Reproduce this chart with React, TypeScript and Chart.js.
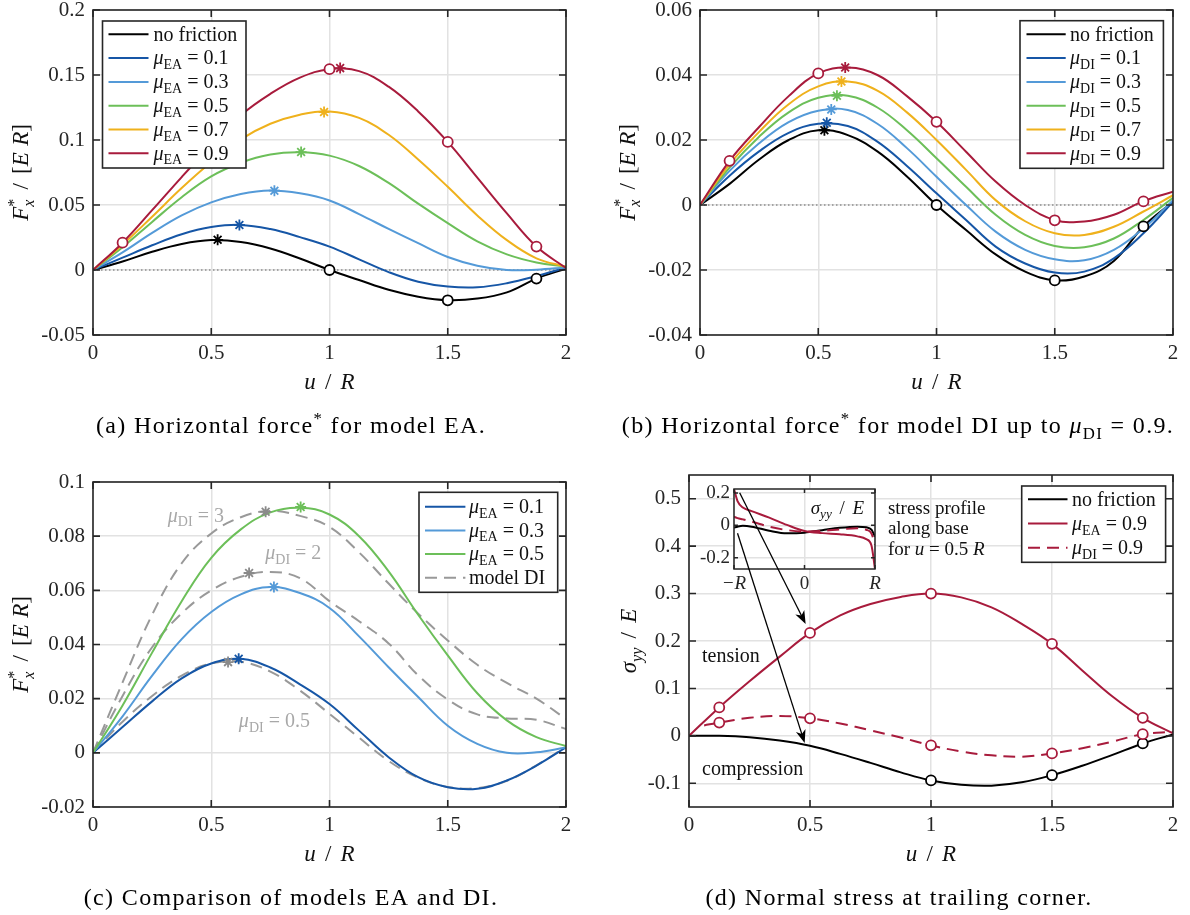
import React, { useEffect, useRef } from 'react';
import { Chart, registerables } from 'chart.js';

Chart.register(...registerables);

// ---------------- data ----------------
const U = [0, 0.125, 0.25, 0.375, 0.5, 0.625, 0.75, 0.875, 1, 1.125, 1.25, 1.375, 1.5, 1.625, 1.75, 1.875, 2];

// horizontal force, no friction (same in a and b)
const noFriction = [0, 0.0065, 0.014, 0.02, 0.023, 0.0215, 0.0165, 0.0088, 0, -0.0077, -0.0152, -0.0205, -0.0232, -0.022, -0.0172, -0.0066, 0.001];
// model EA
const ea01 = [0, 0.0095, 0.019, 0.0275, 0.033, 0.0347, 0.0315, 0.0253, 0.018, 0.0082, -0.0016, -0.009, -0.0127, -0.0133, -0.0102, -0.0047, 0.002];
const ea03 = [0, 0.0135, 0.0285, 0.042, 0.052, 0.0585, 0.0612, 0.059, 0.0535, 0.043, 0.0316, 0.0206, 0.01, 0.0033, 0.0, 0.0002, 0.002];
const ea05 = [0, 0.0175, 0.037, 0.056, 0.072, 0.0825, 0.0888, 0.0905, 0.088, 0.08, 0.067, 0.051, 0.036, 0.022, 0.012, 0.0058, 0.0025];
const ea07 = [0, 0.0195, 0.041, 0.063, 0.083, 0.1005, 0.1125, 0.1195, 0.122, 0.117, 0.104, 0.085, 0.064, 0.042, 0.023, 0.009, 0.0025];
const ea09 = [0, 0.021, 0.046, 0.0715, 0.096, 0.119, 0.1355, 0.148, 0.1545, 0.153, 0.141, 0.122, 0.0985, 0.071, 0.0435, 0.018, 0.0015];
// model DI
const di01 = [0, 0.009, 0.0165, 0.0222, 0.025, 0.0243, 0.0195, 0.012, 0.0036, -0.0046, -0.0128, -0.018, -0.0208, -0.0205, -0.0164, -0.0087, 0.001];
const di03 = [0, 0.0105, 0.019, 0.0255, 0.029, 0.0292, 0.025, 0.0175, 0.0087, 0.0, -0.0082, -0.0138, -0.0167, -0.017, -0.0138, -0.0072, 0.0015];
const di05 = [0, 0.0115, 0.021, 0.0285, 0.033, 0.0336, 0.03, 0.023, 0.0144, 0.0056, -0.003, -0.0092, -0.0126, -0.013, -0.0103, -0.0046, 0.0022];
const di07 = [0, 0.0125, 0.0225, 0.031, 0.0365, 0.038, 0.0352, 0.0285, 0.02, 0.0108, 0.0015, -0.005, -0.0087, -0.0092, -0.0067, -0.002, 0.003];
const di09 = [0, 0.0136, 0.024, 0.0335, 0.0405, 0.0423, 0.04, 0.0335, 0.0256, 0.0164, 0.0072, 0.0, -0.0046, -0.0051, -0.003, 0.0012, 0.0041];
const di2 = [0, 0.021, 0.039, 0.0515, 0.06, 0.065, 0.0668, 0.0645, 0.056, 0.0486, 0.0404, 0.0286, 0.0197, 0.0142, 0.0127, 0.0122, 0.0088];
const di3 = [0, 0.026, 0.051, 0.07, 0.081, 0.087, 0.0893, 0.0875, 0.0834, 0.074, 0.0625, 0.0514, 0.0415, 0.0325, 0.0258, 0.02, 0.0125];

const ZERO_U = [0, 2];
const ZERO_V = [0, 0];

// markers (a)
const A_CIRC_BLACK_U = [1, 1.5, 1.875];
const A_CIRC_BLACK_V = [0, -0.0233, -0.0066];
const A_CIRC_RED_U = [0.125, 1, 1.5, 1.875];
const A_CIRC_RED_V = [0.021, 0.1545, 0.0985, 0.018];
const A_STAR_U = [0.527, 0.619, 0.767, 0.88, 0.977, 1.045];
const A_STAR_V = [0.0232, 0.0346, 0.061, 0.0907, 0.1215, 0.1553];
// markers (b)
const B_CIRC_BLACK_U = [1, 1.5, 1.875];
const B_CIRC_BLACK_V = [0, -0.0232, -0.0066];
const B_CIRC_RED_U = [0.125, 0.5, 1, 1.5, 1.875];
const B_CIRC_RED_V = [0.0136, 0.0405, 0.0256, -0.0047, 0.0011];
const B_STAR_U = [0.526, 0.536, 0.555, 0.579, 0.598, 0.614];
const B_STAR_V = [0.023, 0.0253, 0.0294, 0.0336, 0.038, 0.0423];
// markers (c)
const C_STAR_EA_U = [0.616, 0.765, 0.878];
const C_STAR_EA_V = [0.0347, 0.0612, 0.0908];
const C_STAR_DI_U = [0.571, 0.66, 0.73];
const C_STAR_DI_V = [0.0335, 0.0664, 0.089];

// (d) normal stress at trailing corner
const U_DI_D = [0.0625, 0.125, 0.25, 0.375, 0.5, 0.625, 0.75, 0.875, 1, 1.125, 1.25, 1.375, 1.5, 1.625, 1.75, 1.875, 2];
const stressNF = [0, 0, -0.003, -0.01, -0.021, -0.038, -0.057, -0.077, -0.094, -0.103, -0.105, -0.098, -0.083, -0.063, -0.04, -0.016, 0.003];
const stressEA = [0, 0.06, 0.115, 0.167, 0.217, 0.254, 0.278, 0.293, 0.3, 0.292, 0.271, 0.236, 0.194, 0.138, 0.083, 0.038, 0.005];
const stressDI = [0.022, 0.028, 0.038, 0.042, 0.037, 0.026, 0.0115, -0.0035, -0.02, -0.033, -0.041, -0.044, -0.037, -0.026, -0.012, 0.0035, 0.0085];
const D_CIRC_U = [0.125, 0.5, 1, 1.5, 1.875];
const D_CIRC_EA = [0.06, 0.217, 0.3, 0.194, 0.038];
const D_CIRC_DI = [0.028, 0.037, -0.02, -0.037, 0.0035];
const D_CIRC_NF_U = [1, 1.5, 1.875];
const D_CIRC_NF = [-0.094, -0.083, -0.016];

// inset: stress profile along base
const X_IN = [-1, -0.95, -0.875, -0.75, -0.5, -0.25, 0, 0.25, 0.5, 0.75, 0.875, 0.95, 1];
const insetEA = [0.225, 0.15, 0.11, 0.088, 0.048, 0.003, -0.035, -0.048, -0.055, -0.068, -0.085, -0.125, -0.27];
const insetDI = [0.053, 0.045, 0.037, 0.023, -0.008, -0.029, -0.038, -0.034, -0.025, -0.018, -0.027, -0.05, -0.12];
const insetNF = [-0.014, -0.008, -0.003, -0.008, -0.033, -0.049, -0.045, -0.03, -0.015, -0.008, -0.012, -0.027, -0.07];

// ticks
const X_TICKS = [0, 0.5, 1, 1.5, 2];
const X_TICK_LABELS = ['0', '0.5', '1', '1.5', '2'];
const YA_TICKS = [-0.05, 0, 0.05, 0.1, 0.15, 0.2];
const YA_LABELS = ['-0.05', '0', '0.05', '0.1', '0.15', '0.2'];
const YB_TICKS = [-0.04, -0.02, 0, 0.02, 0.04, 0.06];
const YB_LABELS = ['-0.04', '-0.02', '0', '0.02', '0.04', '0.06'];
const YC_TICKS = [-0.02, 0, 0.02, 0.04, 0.06, 0.08, 0.1];
const YC_LABELS = ['-0.02', '0', '0.02', '0.04', '0.06', '0.08', '0.1'];
const YD_TICKS = [-0.1, 0, 0.1, 0.2, 0.3, 0.4, 0.5];
const YD_LABELS = ['-0.1', '0', '0.1', '0.2', '0.3', '0.4', '0.5'];
const XIN_TICKS = [-1, 0, 1];
const XIN_LABELS = ['\u2212R', '0', 'R'];
const YIN_TICKS = [-0.2, 0, 0.2];
const YIN_LABELS = ['-0.2', '0', '0.2'];

// arrows in (d): from inset (x, y) to main (u, v)
const ARROW_FROM = [[-0.92, 0.202], [-0.95, -0.049]];
const ARROW_TO = [[0.482, 0.236], [0.478, -0.015]];

// ---------------- style ----------------
const FAM = '"Liberation Serif", "Times New Roman", serif';
const INK = '#262626';
const GRID = '#e2e2e2';
const C_BLACK = '#000000';
const C_BLUE = '#1656a6';
const C_LBLUE = '#549ad8';
const C_GREEN = '#6cbf59';
const C_ORANGE = '#efb11c';
const C_RED = '#a81b3c';
const C_GRAY = '#999999';
const C_GRAYSTAR = '#8a8a8a';
const C_GRAYTXT = '#a8a8a8';
const DASH = [12, 7];

type Seg = { t?: string; it?: boolean; sub?: boolean; sup?: boolean; hold?: boolean; gap?: number };

function segFont(s: Seg, size: number) {
  const sz = s.sub || s.sup ? size * 0.7 : size;
  return `${s.it ? 'italic ' : ''}${sz}px ${FAM}`;
}
function segW(ctx: any, s: Seg, size: number) {
  if (s.gap != null) return s.gap * size;
  ctx.font = segFont(s, size);
  return ctx.measureText(s.t ?? '').width;
}
function richWidth(ctx: any, segs: Seg[], size: number) {
  let w = 0;
  let held = 0;
  for (const s of segs) {
    const m = segW(ctx, s, size);
    if (s.hold) held = m;
    else {
      w += Math.max(m, held);
      held = 0;
    }
  }
  return w;
}
function drawRich(ctx: any, segs: Seg[], x: number, y: number, size: number, color: string, align = 'left', rot = 0) {
  ctx.save();
  ctx.translate(x, y);
  if (rot) ctx.rotate(rot);
  const w = richWidth(ctx, segs, size);
  let cx = align === 'left' ? 0 : align === 'center' ? -w / 2 : -w;
  const base = size * 0.31;
  ctx.fillStyle = color;
  ctx.textAlign = 'left';
  ctx.textBaseline = 'alphabetic';
  let held = 0;
  for (const s of segs) {
    const m = segW(ctx, s, size);
    if (s.t) {
      ctx.font = segFont(s, size);
      const dy = s.sub ? size * 0.24 : s.sup ? -size * 0.4 : 0;
      ctx.fillText(s.t, cx, base + dy);
    }
    if (s.hold) held = m;
    else {
      cx += Math.max(m, held);
      held = 0;
    }
  }
  ctx.restore();
}

const mu = (sub: string, val: string): Seg[] => [{ t: '\u03bc', it: true }, { t: sub, sub: true }, { t: ' = ' + val }];
const S_UR: Seg[] = [{ t: 'u', it: true }, { gap: 0.4 }, { t: '/' }, { gap: 0.4 }, { t: 'R', it: true }];
const S_FX: Seg[] = [
  { t: 'F', it: true }, { t: '*', sup: true, hold: true }, { t: 'x', it: true, sub: true },
  { gap: 0.4 }, { t: '/' }, { gap: 0.4 }, { t: '[' }, { t: 'E', it: true }, { gap: 0.28 }, { t: 'R', it: true }, { t: ']' },
];
const S_SIG: Seg[] = [{ t: '\u03c3', it: true }, { t: 'yy', it: true, sub: true }, { gap: 0.4 }, { t: '/' }, { gap: 0.4 }, { t: 'E', it: true }];

// ---------------- helpers ----------------
const pts = (xs: number[], ys: number[]) => xs.map((x, i) => ({ x, y: ys[i] }));

function line(xs: number[], ys: number[], color: string, order: number, dash: number[] = [], width = 2, extra: any = {}) {
  return {
    data: pts(xs, ys), borderColor: color, borderWidth: width, borderDash: dash,
    pointRadius: 0, pointHoverRadius: 0, fill: false, tension: 0.4, order, ...extra,
  };
}
function markers(xs: number[], ys: number[], color: any, style: string) {
  return {
    data: pts(xs, ys), showLine: false, pointStyle: style,
    pointRadius: style === 'circle' ? 5 : 5.5, pointHoverRadius: 0,
    pointBorderWidth: 1.8, pointBorderColor: color, pointBackgroundColor: '#ffffff', order: 0,
  };
}

function scale(min: number, max: number, ticks: number[], labels: string[], isX: boolean, size: number, pad: number, font: any) {
  return {
    type: 'linear', min, max, bounds: 'data',
    afterBuildTicks: (s: any) => { s.ticks = ticks.map((v) => ({ value: v })); },
    afterFit: (s: any) => {
      if (isX) s.height = size; else s.width = size;
      s.paddingTop = 0; s.paddingBottom = 0; s.paddingLeft = 0; s.paddingRight = 0;
    },
    ticks: {
      autoSkip: false, maxRotation: 0, minRotation: 0, padding: pad, color: INK, font,
      callback: (_v: any, i: number) => labels[i],
    },
    grid: { color: GRID, lineWidth: 1.5, drawTicks: false },
    border: { display: false },
  };
}

function drawLegend(ctx: any, ca: any, L: any) {
  const left = L.anchor === 'left' ? ca.left + L.dx : ca.right - L.dx - L.w;
  const top = ca.top + L.dy;
  ctx.save();
  ctx.fillStyle = '#ffffff';
  ctx.fillRect(left, top, L.w, L.h);
  ctx.strokeStyle = INK;
  ctx.lineWidth = 1.6;
  ctx.setLineDash([]);
  ctx.strokeRect(left, top, L.w, L.h);
  L.rows.forEach((r: any, i: number) => {
    const y = top + L.row0 + i * L.rowDy;
    ctx.beginPath();
    ctx.strokeStyle = r.color;
    ctx.lineWidth = 2;
    ctx.setLineDash(r.dash ?? []);
    ctx.moveTo(left + L.lx0, y);
    ctx.lineTo(left + L.lx1, y);
    ctx.stroke();
    ctx.setLineDash([]);
    drawRich(ctx, r.segs, left + L.tx, y, 20, '#111111', 'left');
  });
  ctx.restore();
}

function drawFrame(ctx: any, ca: any, xs: any, ys: any, xt: number[], yt: number[], tl: number, lw: number) {
  ctx.save();
  ctx.strokeStyle = INK;
  ctx.lineWidth = lw;
  ctx.setLineDash([]);
  ctx.beginPath();
  for (const v of xt) {
    const px = xs.getPixelForValue(v);
    ctx.moveTo(px, ca.bottom); ctx.lineTo(px, ca.bottom - tl);
    ctx.moveTo(px, ca.top); ctx.lineTo(px, ca.top + tl);
  }
  for (const v of yt) {
    const py = ys.getPixelForValue(v);
    ctx.moveTo(ca.left, py); ctx.lineTo(ca.left + tl, py);
    ctx.moveTo(ca.right, py); ctx.lineTo(ca.right - tl, py);
  }
  ctx.stroke();
  ctx.strokeRect(ca.left, ca.top, ca.right - ca.left, ca.bottom - ca.top);
  ctx.restore();
}

function decor(p: any) {
  return {
    id: 'decor',
    afterDraw(chart: any) {
      const ctx = chart.ctx;
      const ca = chart.chartArea;
      const xs = chart.scales.x;
      const ys = chart.scales.y;
      drawFrame(ctx, ca, xs, ys, X_TICKS, p.yTicks, 7, 1.6);
      for (const a of p.texts ?? []) {
        drawRich(ctx, a.segs, xs.getPixelForValue(a.u), ys.getPixelForValue(a.v), a.size, a.color, a.align);
      }
      if (p.legend) drawLegend(ctx, ca, p.legend);
      drawRich(ctx, S_UR, (ca.left + ca.right) / 2, ca.bottom + 47, 23, '#111111', 'center');
      drawRich(ctx, p.yTitle, ca.left - p.yTitleDx, (ca.top + ca.bottom) / 2, 23, '#111111', 'center', -Math.PI / 2);
      ctx.save();
      ctx.letterSpacing = '1.35px';
      drawRich(ctx, p.caption, p.capX, p.capY, 24, '#000000', 'center');
      ctx.restore();
    },
  };
}

const TICK_FONT = { family: FAM, size: 21, lineHeight: 1.2 };

function mainConfig(p: any) {
  return {
    type: 'line',
    data: { datasets: p.datasets },
    options: {
      responsive: false, animation: false, events: [],
      layout: { padding: p.padding },
      scales: {
        x: scale(0, 2, X_TICKS, X_TICK_LABELS, true, 40, 6, TICK_FONT),
        y: scale(p.ymin, p.ymax, p.yTicks, p.yLabels, false, p.yWidth, 8, TICK_FONT),
      },
      plugins: { legend: { display: false }, tooltip: { enabled: false } },
    },
    plugins: [decor(p)],
  };
}

// ---------------- panel configs ----------------
const LEG_A = {
  anchor: 'left', dx: 9.5, dy: 11, w: 143.5, h: 147, row0: 13.3, rowDy: 23.8, lx0: 6, lx1: 46, tx: 51,
  rows: [
    { segs: [{ t: 'no friction' }], color: C_BLACK },
    { segs: mu('EA', '0.1'), color: C_BLUE },
    { segs: mu('EA', '0.3'), color: C_LBLUE },
    { segs: mu('EA', '0.5'), color: C_GREEN },
    { segs: mu('EA', '0.7'), color: C_ORANGE },
    { segs: mu('EA', '0.9'), color: C_RED },
  ],
};
const LEG_B = {
  anchor: 'right', dx: 9.6, dy: 10.7, w: 143.4, h: 147.6, row0: 13.6, rowDy: 23.8, lx0: 6.5, lx1: 45.7, tx: 50,
  rows: [
    { segs: [{ t: 'no friction' }], color: C_BLACK },
    { segs: mu('DI', '0.1'), color: C_BLUE },
    { segs: mu('DI', '0.3'), color: C_LBLUE },
    { segs: mu('DI', '0.5'), color: C_GREEN },
    { segs: mu('DI', '0.7'), color: C_ORANGE },
    { segs: mu('DI', '0.9'), color: C_RED },
  ],
};
const LEG_C = {
  anchor: 'right', dx: 8.3, dy: 10.3, w: 138.7, h: 100, row0: 14.4, rowDy: 23.7, lx0: 6, lx1: 46.4, tx: 50,
  rows: [
    { segs: mu('EA', '0.1'), color: C_BLUE },
    { segs: mu('EA', '0.3'), color: C_LBLUE },
    { segs: mu('EA', '0.5'), color: C_GREEN },
    { segs: [{ t: 'model DI' }], color: C_GRAY, dash: DASH },
  ],
};
const LEG_D = {
  anchor: 'right', dx: 7.4, dy: 11, w: 143.9, h: 76.3, row0: 13.3, rowDy: 24.2, lx0: 6.3, lx1: 45.8, tx: 50.3,
  rows: [
    { segs: [{ t: 'no friction' }], color: C_BLACK },
    { segs: mu('EA', '0.9'), color: C_RED },
    { segs: mu('DI', '0.9'), color: C_RED, dash: DASH },
  ],
};

const C_TEXTS = [
  { segs: mu('DI', '3'), u: 0.435, v: 0.0877, size: 20, color: C_GRAYTXT, align: 'center' },
  { segs: mu('DI', '2'), u: 0.847, v: 0.0739, size: 20, color: C_GRAYTXT, align: 'center' },
  { segs: mu('DI', '0.5'), u: 0.767, v: 0.0119, size: 20, color: C_GRAYTXT, align: 'center' },
];
const D_TEXTS = [
  { segs: [{ t: 'tension' }], u: 0.054, v: 0.169, size: 20, color: '#111111', align: 'left' },
  { segs: [{ t: 'compression' }], u: 0.054, v: -0.0704, size: 20, color: '#111111', align: 'left' },
  { segs: [{ t: 'stress profile' }], u: 0.822, v: 0.4806, size: 19, color: '#111111', align: 'left' },
  { segs: [{ t: 'along base' }], u: 0.822, v: 0.438, size: 19, color: '#111111', align: 'left' },
  { segs: [{ t: 'for ' }, { t: 'u', it: true }, { t: ' = 0.5 ' }, { t: 'R', it: true }], u: 0.822, v: 0.3945, size: 19, color: '#111111', align: 'left' },
];

const CAP_A: Seg[] = [{ t: '(a) Horizontal force' }, { t: '*', sup: true }, { t: ' for model EA.' }];
const CAP_B: Seg[] = [{ t: '(b) Horizontal force' }, { t: '*', sup: true }, { t: ' for model DI up to ' }, { t: '\u03bc', it: true }, { t: 'DI', sub: true }, { t: ' = 0.9.' }];
const CAP_C: Seg[] = [{ t: '(c) Comparison of models EA and DI.' }];
const CAP_D: Seg[] = [{ t: '(d) Normal stress at trailing corner.' }];

function cfgA() {
  return mainConfig({
    datasets: [
      markers(A_CIRC_BLACK_U, A_CIRC_BLACK_V, C_BLACK, 'circle'),
      markers(A_CIRC_RED_U, A_CIRC_RED_V, C_RED, 'circle'),
      markers(A_STAR_U, A_STAR_V, [C_BLACK, C_BLUE, C_LBLUE, C_GREEN, C_ORANGE, C_RED], 'star'),
      line(U, ea09, C_RED, 1),
      line(U, ea07, C_ORANGE, 2),
      line(U, ea05, C_GREEN, 3),
      line(U, ea03, C_LBLUE, 4),
      line(U, ea01, C_BLUE, 5),
      line(U, noFriction, C_BLACK, 6),
      line(ZERO_U, ZERO_V, '#8f8f8f', 7, [1.5, 2.5], 1.3, { tension: 0 }),
    ],
    padding: { top: 10, left: 0, right: 29, bottom: 80 },
    ymin: -0.05, ymax: 0.2, yTicks: YA_TICKS, yLabels: YA_LABELS, yWidth: 93,
    legend: LEG_A, yTitle: S_FX, yTitleDx: 72, caption: CAP_A, capX: 291, capY: 426,
  });
}
function cfgB() {
  return mainConfig({
    datasets: [
      markers(B_CIRC_BLACK_U, B_CIRC_BLACK_V, C_BLACK, 'circle'),
      markers(B_CIRC_RED_U, B_CIRC_RED_V, C_RED, 'circle'),
      markers(B_STAR_U, B_STAR_V, [C_BLACK, C_BLUE, C_LBLUE, C_GREEN, C_ORANGE, C_RED], 'star'),
      line(U, di09, C_RED, 1),
      line(U, di07, C_ORANGE, 2),
      line(U, di05, C_GREEN, 3),
      line(U, di03, C_LBLUE, 4),
      line(U, di01, C_BLUE, 5),
      line(U, noFriction, C_BLACK, 6),
      line(ZERO_U, ZERO_V, '#8f8f8f', 7, [1.5, 2.5], 1.3, { tension: 0 }),
    ],
    padding: { top: 10, left: 0, right: 17, bottom: 80 },
    ymin: -0.04, ymax: 0.06, yTicks: YB_TICKS, yLabels: YB_LABELS, yWidth: 105,
    legend: LEG_B, yTitle: S_FX, yTitleDx: 72.5, caption: CAP_B, capX: 303, capY: 426,
  });
}
function cfgC() {
  return mainConfig({
    datasets: [
      markers(C_STAR_EA_U, C_STAR_EA_V, [C_BLUE, C_LBLUE, C_GREEN], 'star'),
      markers(C_STAR_DI_U, C_STAR_DI_V, C_GRAYSTAR, 'star'),
      line(U, ea05, C_GREEN, 1),
      line(U, ea03, C_LBLUE, 2),
      line(U, ea01, C_BLUE, 3),
      line(U, di3, C_GRAY, 4, DASH),
      line(U, di2, C_GRAY, 5, DASH),
      line(U, di05, C_GRAY, 6, DASH),
    ],
    padding: { top: 27, left: 0, right: 29, bottom: 68 },
    ymin: -0.02, ymax: 0.1, yTicks: YC_TICKS, yLabels: YC_LABELS, yWidth: 93,
    legend: LEG_C, texts: C_TEXTS, yTitle: S_FX, yTitleDx: 72, caption: CAP_C, capX: 291, capY: 443,
  });
}
function cfgD() {
  return mainConfig({
    datasets: [
      markers(D_CIRC_U, D_CIRC_EA, C_RED, 'circle'),
      markers(D_CIRC_U, D_CIRC_DI, C_RED, 'circle'),
      markers(D_CIRC_NF_U, D_CIRC_NF, C_BLACK, 'circle'),
      line(U, stressEA, C_RED, 1),
      line(U_DI_D, stressDI, C_RED, 2, DASH),
      line(U, stressNF, C_BLACK, 3),
    ],
    padding: { top: 20, left: 0, right: 17, bottom: 68 },
    ymin: -0.15, ymax: 0.55, yTicks: YD_TICKS, yLabels: YD_LABELS, yWidth: 94,
    legend: LEG_D, texts: D_TEXTS, yTitle: S_SIG, yTitleDx: 60, caption: CAP_D, capX: 304, capY: 443,
  });
}

function drawArrow(ctx: any, x0: number, y0: number, x1: number, y1: number) {
  const ang = Math.atan2(y1 - y0, x1 - x0);
  const c = Math.cos(ang);
  const s = Math.sin(ang);
  const L = 13;
  const W = 5;
  ctx.beginPath();
  ctx.moveTo(x0, y0);
  ctx.lineTo(x1 - 8 * c, y1 - 8 * s);
  ctx.stroke();
  const bx = x1 - L * c;
  const by = y1 - L * s;
  ctx.beginPath();
  ctx.moveTo(x1, y1);
  ctx.lineTo(bx + W * s, by - W * c);
  ctx.lineTo(x1 - 0.72 * L * c, y1 - 0.72 * L * s);
  ctx.lineTo(bx - W * s, by + W * c);
  ctx.closePath();
  ctx.fill();
}

function insetConfig(main: any) {
  const inFont = { family: FAM, size: 19, lineHeight: 1.2 };
  const xFont = (c: any) => ({ family: FAM, size: 19, lineHeight: 1.2, style: c.tick && c.tick.value !== 0 ? 'italic' : 'normal' });
  return {
    type: 'line',
    data: {
      datasets: [
        line(X_IN, insetEA, C_RED, 1, [], 2, { cubicInterpolationMode: 'monotone' }),
        line(X_IN, insetDI, C_RED, 2, DASH, 2, { cubicInterpolationMode: 'monotone' }),
        line(X_IN, insetNF, C_BLACK, 3, [], 2, { cubicInterpolationMode: 'monotone' }),
      ],
    },
    options: {
      responsive: false, animation: false, events: [],
      layout: { padding: { left: 99, right: 315, top: 34, bottom: 316 } },
      scales: {
        x: scale(-1, 1, XIN_TICKS, XIN_LABELS, true, 30, 4, xFont),
        y: scale(-0.27, 0.225, YIN_TICKS, YIN_LABELS, false, 40, 4, inFont),
      },
      plugins: { legend: { display: false }, tooltip: { enabled: false } },
    },
    plugins: [
      {
        id: 'inset',
        beforeDraw(chart: any) {
          const ca = chart.chartArea;
          const ctx = chart.ctx;
          ctx.save();
          ctx.fillStyle = '#ffffff';
          ctx.fillRect(ca.left, ca.top, ca.right - ca.left, ca.bottom - ca.top);
          ctx.restore();
        },
        afterDraw(chart: any) {
          const ctx = chart.ctx;
          const ca = chart.chartArea;
          const xs = chart.scales.x;
          const ys = chart.scales.y;
          drawFrame(ctx, ca, xs, ys, XIN_TICKS, YIN_TICKS, 4, 1.5);
          drawRich(ctx, S_SIG, ca.right - 11, ca.top + 19, 19, '#111111', 'right');
          const mx = main.scales.x;
          const my = main.scales.y;
          ctx.save();
          ctx.strokeStyle = '#000000';
          ctx.fillStyle = '#000000';
          ctx.lineWidth = 1.3;
          ARROW_FROM.forEach((f, i) => {
            const t = ARROW_TO[i];
            drawArrow(ctx, xs.getPixelForValue(f[0]), ys.getPixelForValue(f[1]), mx.getPixelForValue(t[0]), my.getPixelForValue(t[1]));
          });
          ctx.restore();
        },
      },
    ],
  };
}

// ---------------- component ----------------
export default function App() {
  const refA = useRef<HTMLCanvasElement>(null);
  const refB = useRef<HTMLCanvasElement>(null);
  const refC = useRef<HTMLCanvasElement>(null);
  const refD = useRef<HTMLCanvasElement>(null);
  const refIn = useRef<HTMLCanvasElement>(null);

  useEffect(() => {
    const charts: any[] = [];
    charts.push(new Chart(refA.current as any, cfgA() as any));
    charts.push(new Chart(refB.current as any, cfgB() as any));
    charts.push(new Chart(refC.current as any, cfgC() as any));
    const d = new Chart(refD.current as any, cfgD() as any);
    charts.push(d);
    charts.push(new Chart(refIn.current as any, insetConfig(d) as any));
    return () => charts.forEach((c) => c.destroy());
  }, []);

  const cv = (left: number, top: number, w: number, h: number) => ({
    position: 'absolute' as const, left, top, width: w, height: h, display: 'block',
  });

  return (
    <div style={{ position: 'absolute', left: 0, top: 0, width: 1190, height: 915, background: '#ffffff', overflow: 'hidden' }}>
      <canvas ref={refA} width={595} height={455} style={cv(0, 0, 595, 455)} />
      <canvas ref={refB} width={595} height={455} style={cv(595, 0, 595, 455)} />
      <canvas ref={refC} width={595} height={460} style={cv(0, 455, 595, 460)} />
      <canvas ref={refD} width={595} height={460} style={cv(595, 455, 595, 460)} />
      <canvas ref={refIn} width={595} height={460} style={cv(595, 455, 595, 460)} />
    </div>
  );
}
